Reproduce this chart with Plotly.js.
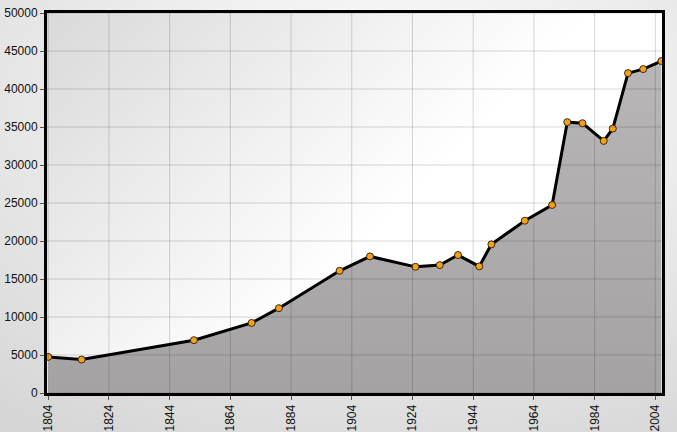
<!DOCTYPE html>
<html>
<head>
<meta charset="utf-8">
<script src="https://cdn.plot.ly/plotly-3.0.1.min.js"></script>
<style>html,body{margin:0;padding:0;background:#e4e4e4;}#chart{width:677px;height:432px;}</style>
</head>
<body>
<div id="chart"></div>
<script>
var years = [1804, 1815, 1852, 1871, 1880, 1900, 1910, 1925, 1933, 1939, 1946, 1950, 1961, 1970, 1975, 1980, 1987, 1990, 1995, 2000, 2006];
var population = [4750, 4400, 6950, 9220, 11160, 16080, 17970, 16600, 16830, 18150, 16660, 19560, 22670, 24740, 35640, 35500, 33170, 34790, 42090, 42620, 43670];
var xTickVals = [1804, 1824, 1844, 1864, 1884, 1904, 1924, 1944, 1964, 1984, 2004];
var yTickVals = [0, 5000, 10000, 15000, 20000, 25000, 30000, 35000, 40000, 45000, 50000];

var paperSvg = '<svg xmlns="http://www.w3.org/2000/svg" width="677" height="432"><defs><radialGradient id="g" cx="0.55" cy="0.25" r="0.85"><stop offset="0" stop-color="#ffffff"/><stop offset="1" stop-color="#d6d6d6"/></radialGradient></defs><rect width="677" height="432" fill="url(#g)"/></svg>';
var plotSvg = '<svg xmlns="http://www.w3.org/2000/svg" width="600" height="380"><defs><linearGradient id="p" x1="0" y1="0" x2="1" y2="0.6"><stop offset="0" stop-color="#d9d9d9"/><stop offset="0.65" stop-color="#ffffff"/><stop offset="1" stop-color="#ffffff"/></linearGradient></defs><rect width="600" height="380" fill="url(#p)"/></svg>';

var trace = {
  x: years,
  y: population,
  type: 'scatter',
  mode: 'lines+markers',
  fill: 'tozeroy',
  fillgradient: {type: 'vertical', colorscale: [[0, '#a4a2a2'], [1, '#b8b6b6']]},
  fillcolor: '#adabab',
  line: {color: '#000000', width: 3},
  marker: {color: '#f5a01a', size: 7, line: {color: '#3a2a10', width: 1}},
  hoverinfo: 'x+y'
};

var gridColor = 'rgba(0,0,0,0.16)';
var gridShapes = [];
xTickVals.forEach(function (v) {
  gridShapes.push({type: 'line', xref: 'x', yref: 'paper', x0: v, x1: v, y0: 0, y1: 1, layer: 'above', line: {color: gridColor, width: 1}});
});
yTickVals.forEach(function (v) {
  gridShapes.push({type: 'line', xref: 'paper', yref: 'y', x0: 0, x1: 1, y0: v, y1: v, layer: 'above', line: {color: gridColor, width: 1}});
});

var axisCommon = {
  ticks: 'outside',
  ticklen: 4,
  tickcolor: '#555555',
  showgrid: false,
  showline: true,
  linecolor: '#000000',
  linewidth: 3,
  mirror: true,
  zeroline: false,
  tickfont: {size: 12, color: '#111111'}
};

var layout = {
  width: 677,
  height: 432,
  margin: {l: 47, r: 15, t: 13, b: 39},
  paper_bgcolor: '#e2e2e2',
  plot_bgcolor: 'rgba(0,0,0,0)',
  showlegend: false,
  font: {family: 'Liberation Sans, Arial, sans-serif', size: 12, color: '#111111'},
  shapes: gridShapes,
  images: [
    {source: 'data:image/svg+xml;charset=utf-8,' + encodeURIComponent(paperSvg), xref: 'paper', yref: 'paper', x: -0.1, y: 1.05, sizex: 1.2, sizey: 1.2, sizing: 'stretch', layer: 'below', xanchor: 'left', yanchor: 'top'},
    {source: 'data:image/svg+xml;charset=utf-8,' + encodeURIComponent(plotSvg), xref: 'paper', yref: 'paper', x: 0, y: 1, sizex: 1, sizey: 1, sizing: 'stretch', layer: 'below', xanchor: 'left', yanchor: 'top'}
  ],
  xaxis: Object.assign({}, axisCommon, {
    range: [1803.6, 2006.2],
    tickmode: 'array',
    tickvals: xTickVals,
    ticktext: xTickVals.map(String),
    tickangle: -90,
    layer: 'above traces'
  }),
  yaxis: Object.assign({}, axisCommon, {
    range: [0, 50000],
    tickmode: 'array',
    tickvals: yTickVals,
    ticktext: yTickVals.map(String),
    layer: 'above traces'
  })
};

Plotly.newPlot('chart', [trace], layout, {displayModeBar: false, staticPlot: true});
</script>
</body>
</html>
